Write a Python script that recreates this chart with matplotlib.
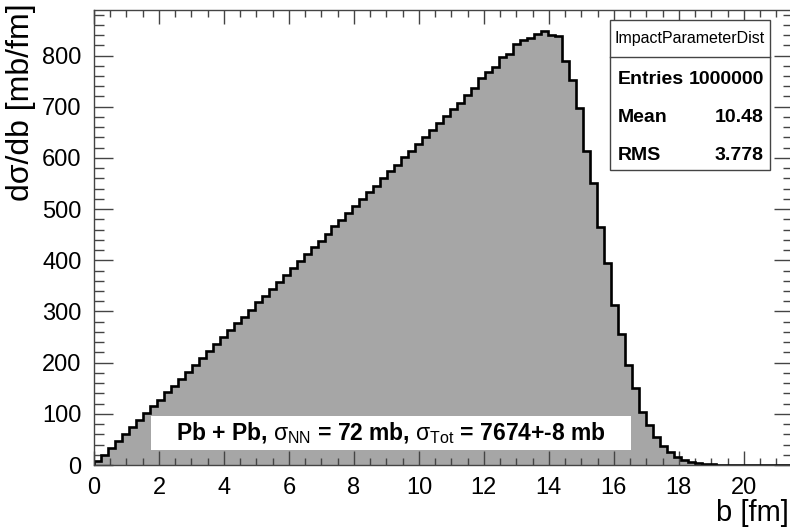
from matplotlib import pyplot as plt
from matplotlib.patches import Rectangle
from matplotlib.lines import Line2D
import numpy as np

plt.rcParams['font.family'] = ['Liberation Sans', 'DejaVu Sans']
plt.rcParams['mathtext.fontset'] = 'custom'
plt.rcParams['mathtext.rm'] = 'Liberation Sans'
plt.rcParams['mathtext.it'] = 'Liberation Sans'
plt.rcParams['mathtext.bf'] = 'Liberation Sans:bold'

# histogram: 100 bins from 0 to 21.5 fm
b_lo, b_hi, n_bins = 0.0, 21.5, 100
dsigma_db = [7, 20, 34, 47, 61, 75, 88, 101, 115, 127,
             142, 155, 168, 182, 196, 210, 222, 236, 250, 263,
             277, 290, 303, 318, 330, 344, 358, 371, 384, 398,
             412, 425, 438, 452, 466, 479, 492, 506, 520, 533,
             546, 560, 574, 587, 601, 614, 628, 641, 655, 668,
             682, 695, 708, 722, 736, 757, 768, 778, 798, 803,
             822, 830, 835, 843, 847, 841, 839, 790, 753, 698,
             614, 551, 465, 394, 312, 255, 195, 150, 104, 78,
             55, 37, 26, 16, 10, 6, 3.5, 2, 1.2, 0.8,
             0.5, 0.3, 0.2, 0.15, 0.1, 0.05, 0.03, 0.02, 0.01, 0.01]

x_ticks = [0, 2, 4, 6, 8, 10, 12, 14, 16, 18, 20]
y_ticks = [0, 100, 200, 300, 400, 500, 600, 700, 800]

stats_title = "ImpactParameterDist"
stats_rows = [("Entries", "1000000"), ("Mean", "10.48"), ("RMS", "3.778")]
label_text = r"Pb + Pb, $\sigma_{\rm NN}$ = 72 mb, $\sigma_{\rm Tot}$ = 7674+-8 mb"

W, H = 790, 532
fig = plt.figure(figsize=(W / 100, H / 100), dpi=100)


def fx(px):
    return px / W


def fy(py):
    return 1 - py / H


ax = fig.add_axes([fx(94), fy(465), fx(792.5) - fx(94), fy(10) - fy(465)])

edges = np.linspace(b_lo, b_hi, n_bins + 1)
ax.stairs(dsigma_db, edges, fill=True, color='#a6a6a6', zorder=1)
ax.stairs(dsigma_db, edges, baseline=0, color='black', lw=1.9, zorder=2)

ax.set_xlim(b_lo, b_hi)
ax.set_ylim(0, 889)
ax.set_xticks(x_ticks)
ax.set_yticks(y_ticks)
ax.set_xticks(np.arange(0, 21.5, 0.5), minor=True)
ax.set_yticks(np.arange(0, 889, 20), minor=True)
ax.tick_params(axis='both', which='both', direction='in', top=True, right=True,
               color='#444444', width=1)
ax.tick_params(axis='x', which='major', length=10, labelsize=17, pad=9)
ax.tick_params(axis='x', which='minor', length=5)
ax.tick_params(axis='y', which='major', length=14, labelsize=17, pad=9)
ax.tick_params(axis='y', which='minor', length=7)
for s in ax.spines.values():
    s.set_color('#444444')
    s.set_linewidth(1)

# axis titles (ROOT style, right/top aligned)
fig.text(fx(789), fy(513), "b [fm]", ha='right', va='center', fontsize=21)
fig.text(fx(21), fy(3), "d\u03c3/db [mb/fm]", rotation=90, ha='center', va='top',
         fontsize=23)

# label box
fig.patches.append(Rectangle((fx(151), fy(450)), fx(631) - fx(151), fy(416) - fy(450),
                             transform=fig.transFigure, facecolor='white',
                             edgecolor='none', zorder=3))
fig.text(fx(391), fy(433), label_text, ha='center', va='center', fontsize=16.5,
         fontweight='bold', zorder=4)

# stats box
fig.patches.append(Rectangle((fx(610), fy(170)), fx(770) - fx(610), fy(20) - fy(170),
                             transform=fig.transFigure, facecolor='white',
                             edgecolor='#444444', lw=1, zorder=3))
fig.lines.append(Line2D([fx(610), fx(770)], [fy(57), fy(57)],
                        transform=fig.transFigure, color='#444444', lw=1, zorder=4))
fig.text(fx(690), fy(38), stats_title, ha='center', va='center', fontsize=11.5,
         zorder=5)
for i, (name, val) in enumerate(stats_rows):
    y = fy(79 + 38 * i)
    fig.text(fx(618), y, name, ha='left', va='center', fontsize=14,
             fontweight='bold', zorder=5)
    fig.text(fx(764), y, val, ha='right', va='center', fontsize=14,
             fontweight='bold', zorder=5)

fig.savefig("out.png", dpi=100)
